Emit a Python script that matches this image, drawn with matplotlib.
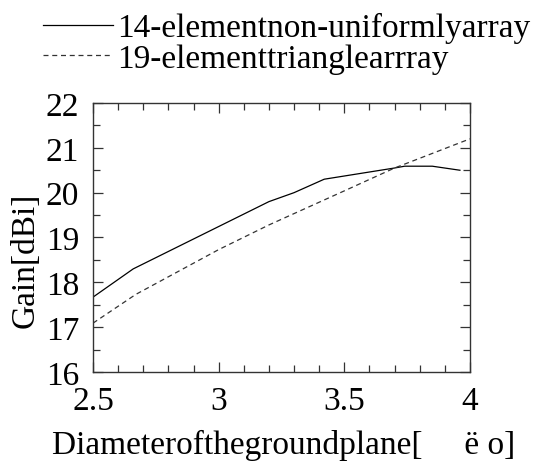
import numpy as np
import matplotlib
matplotlib.use('Agg')
import matplotlib.pyplot as plt
from matplotlib.ticker import MultipleLocator

plt.rcParams['font.family'] = ['Liberation Serif', 'DejaVu Serif']

# data
d_solid = [2.5, 2.66, 3.2, 3.3, 3.42, 3.7, 3.74, 3.85, 3.96]
g_solid = [17.67, 18.30, 19.80, 20.0, 20.30, 20.55, 20.59, 20.59, 20.50]
d_dash = [2.5, 2.67, 3.0, 3.2, 3.5, 3.7, 4.0]
g_dash = [17.09, 17.73, 18.73, 19.28, 20.04, 20.55, 21.2]
lab_solid = '14-elementnon-uniformlyarray'
lab_dash = '19-elementtrianglearrray'

fs = 24

fig = plt.figure(figsize=(5.37, 4.64), dpi=100)
ax = fig.add_axes([0.1732, 0.1961, 0.702, 0.5798])

ax.plot(d_solid, g_solid, '-', color='black', lw=0.9, label=lab_solid)
ax.plot(d_dash, g_dash, color='#333333', lw=0.9, ls=(0, (4, 3)), label=lab_dash)

ax.set_xlim(2.5, 4.0)
ax.set_ylim(16, 22)
ax.xaxis.set_major_locator(MultipleLocator(0.5))
ax.xaxis.set_minor_locator(MultipleLocator(0.1))
ax.yaxis.set_major_locator(MultipleLocator(1))
ax.yaxis.set_minor_locator(MultipleLocator(0.5))
ax.tick_params(which='both', direction='in', top=True, right=True,
               labelsize=fs, width=0.9, color='#333333')
ax.tick_params(which='major', length=7, pad=10)
ax.tick_params(which='minor', length=5)
ax.set_xticks([2.5, 3, 3.5, 4])
ax.set_xticklabels(['2.5', '3', '3.5', '4'])
for s in ax.spines.values():
    s.set_color('#333333')
    s.set_linewidth(1.0)

fig.text(0.047, 0.44, 'Gain[dBi]', rotation=90, fontsize=fs,
         ha='center', va='center')
fig.text(0.097, 0.006, 'Diameterofthegroundplane[     \u00eb o]', fontsize=fs,
         ha='left', va='bottom')

leg = fig.legend(loc='upper left', bbox_to_anchor=(0.056, 1.0), frameon=False,
                 fontsize=fs, handlelength=2.1, handletextpad=0.1,
                 labelspacing=0.0, borderaxespad=0.0)

fig.savefig('out.png', dpi=100)
